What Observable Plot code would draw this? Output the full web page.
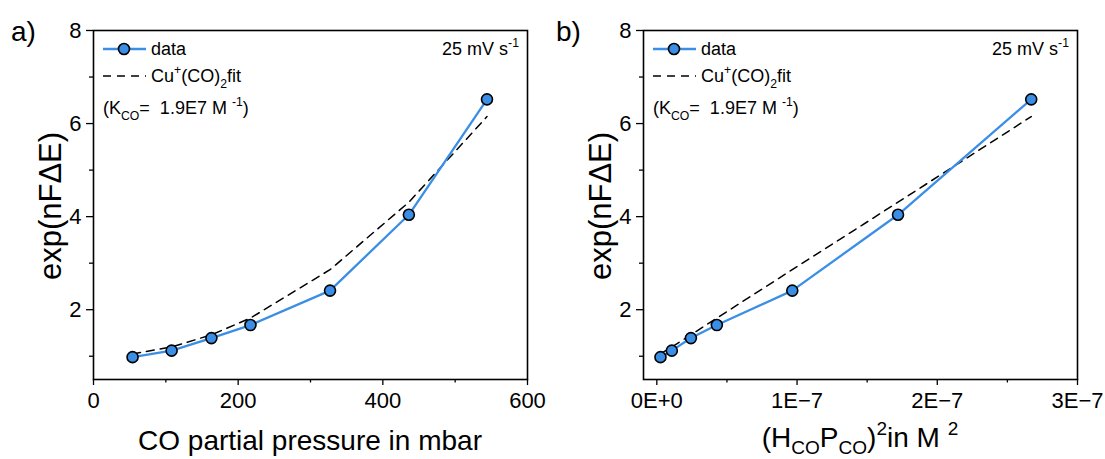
<!DOCTYPE html>
<html>
<head>
<meta charset="utf-8">
<script src="https://cdn.jsdelivr.net/npm/d3@7"></script>
<script src="https://cdn.jsdelivr.net/npm/@observablehq/plot@0.6"></script>
<style>
  html, body { margin: 0; padding: 0; background: #fff; }
  #wrap { display: flex; width: 1105px; height: 459px; }
  svg { font-family: "Liberation Sans", Arial, sans-serif; }
</style>
</head>
<body>
<div id="wrap"></div>
<script>
// ---------- data ----------
const pressure = [54, 108, 163, 217, 327, 436, 544];                          // mbar
const hp2      = [2.6e-9, 1.07e-8, 2.43e-8, 4.28e-8, 9.66e-8, 1.72e-7, 2.67e-7]; // M^2
const expData  = [0.98, 1.12, 1.39, 1.67, 2.41, 4.04, 6.52];
const expFit   = [1.05, 1.20, 1.46, 1.82, 2.86, 4.31, 6.15];

const xTicksA = [0, 200, 400, 600];
const xMinorA = [100, 300, 500];
const xTicksB = [0, 1e-7, 2e-7, 3e-7];
const xTickLabelsB = ["0E+0", "1E\u22127", "2E\u22127", "3E\u22127"];
const xMinorB = [0.5e-7, 1.5e-7, 2.5e-7];
const yTicks = [2, 4, 6, 8];
const yMinor = [1, 3, 5, 7];

const BLUE = "#3a8ee6";
const FONT = "Liberation Sans, Arial, sans-serif";

const rowsA = pressure.map((p, i) => ({x: p, y: expData[i], f: expFit[i]}));
const rowsB = hp2.map((h, i) => ({x: h, y: expData[i], f: expFit[i]}));

// rich text helper: parts = [[text, "n"|"sub"|"sup"], ...]
function rich(g, x, y, parts, size, anchor = "start", rotate = 0, subShift = 0.32) {
  const t = g.append("text")
    .attr("x", x).attr("y", y)
    .attr("font-size", size)
    .attr("font-family", FONT)
    .attr("fill", "black")
    .attr("text-anchor", anchor);
  if (rotate) t.attr("transform", `rotate(${rotate},${x},${y})`);
  let cur = 0;
  for (const [s, kind] of parts) {
    let target = 0, fs = size;
    if (kind === "sub") { target = size * subShift; fs = size * 0.68; }
    if (kind === "sup") { target = -size * 0.42; fs = size * 0.68; }
    t.append("tspan").attr("dy", target - cur).attr("font-size", fs).text(s);
    cur = target;
  }
  return t;
}

function panel(rows, opts) {
  const plot = Plot.plot({
    width: opts.width, height: 459,
    marginLeft: opts.ml, marginRight: opts.mr, marginTop: 30, marginBottom: 80,
    style: {fontFamily: FONT, background: "white", overflow: "visible"},
    x: {domain: opts.xdomain},
    y: {domain: [0.5, 8]},
    marks: [
      Plot.axisX({ticks: opts.xticks, tickSize: 6, tickPadding: 7, fontSize: 22,
                  tickFormat: opts.xfmt, label: null, strokeWidth: 1.3, fill: "black"}),
      Plot.axisX({ticks: opts.xminor, tickSize: 3.5, tickFormat: () => "", label: null, strokeWidth: 1.3}),
      Plot.axisY({ticks: yTicks, tickSize: 7, tickPadding: 5, fontSize: 22,
                  label: null, strokeWidth: 1.3, fill: "black"}),
      Plot.axisY({ticks: yMinor, tickSize: 4, tickFormat: () => "", label: null, strokeWidth: 1.3}),
      Plot.line(rows, {x: "x", y: "f", stroke: "black", strokeWidth: 1.5, strokeDasharray: "8,6"}),
      Plot.line(rows, {x: "x", y: "y", stroke: BLUE, strokeWidth: 2.3}),
      Plot.dot(rows, {x: "x", y: "y", r: 5.5, fill: BLUE, stroke: "black", strokeWidth: 1.6}),
      Plot.frame({stroke: "black", strokeWidth: 1.6})
    ]
  });
  const g = d3.select(plot);
  const L = opts.ml, R = opts.width - opts.mr;

  // panel letter
  g.append("text").attr("x", opts.letterX).attr("y", 41).attr("font-size", 28)
    .attr("font-family", FONT).attr("text-anchor", "start").text(opts.letter);

  // y title
  rich(g, L - 32, 206, [["exp(nF\u0394E)", "n"]], 31, "middle", -90);

  // x title
  rich(g, (L + R) / 2, opts.xtitleY, opts.xtitle, 28, "middle", 0, 0.25);

  // legend
  g.append("line").attr("x1", L + 10).attr("x2", L + 53).attr("y1", 49).attr("y2", 49)
    .attr("stroke", BLUE).attr("stroke-width", 2.3);
  g.append("circle").attr("cx", L + 31).attr("cy", 49).attr("r", 5.5)
    .attr("fill", BLUE).attr("stroke", "black").attr("stroke-width", 1.6);
  rich(g, L + 58, 55, [["data", "n"]], 18);
  g.append("line").attr("x1", L + 10).attr("x2", L + 53).attr("y1", 76).attr("y2", 76)
    .attr("stroke", "black").attr("stroke-width", 1.5).attr("stroke-dasharray", "8,6");
  rich(g, L + 58, 82, [["Cu", "n"], ["+", "sup"], ["(CO)", "n"], ["2", "sub"], ["fit", "n"]], 18);
  rich(g, L + 10, 114, [["(K", "n"], ["CO", "sub"], ["=  1.9E7 M ", "n"], ["-1", "sup"], [")", "n"]], 18);
  rich(g, R - 8, 55, [["25 mV s", "n"], ["-1", "sup"]], 18, "end");
  return plot;
}

const wrap = document.getElementById("wrap");
wrap.appendChild(panel(rowsA, {
  width: 552, ml: 93, mr: 25, xdomain: [0, 600],
  xticks: xTicksA, xminor: xMinorA, xfmt: d => String(d),
  letter: "a)", letterX: 11, xtitleY: 450,
  xtitle: [["CO partial pressure in mbar", "n"]]
}));
wrap.appendChild(panel(rowsB, {
  width: 553, ml: 91, mr: 28, xdomain: [-0.095e-7, 3e-7],
  xticks: xTicksB, xminor: xMinorB, xfmt: d => xTickLabelsB[xTicksB.findIndex(t => Math.abs(t - d) < 1e-12)],
  letter: "b)", letterX: 4, xtitleY: 447,
  xtitle: [["(H", "n"], ["CO", "sub"], ["P", "n"], ["CO", "sub"], [")", "n"], ["2", "sup"], ["in M ", "n"], ["2", "sup"]]
}));
</script>
</body>
</html>
